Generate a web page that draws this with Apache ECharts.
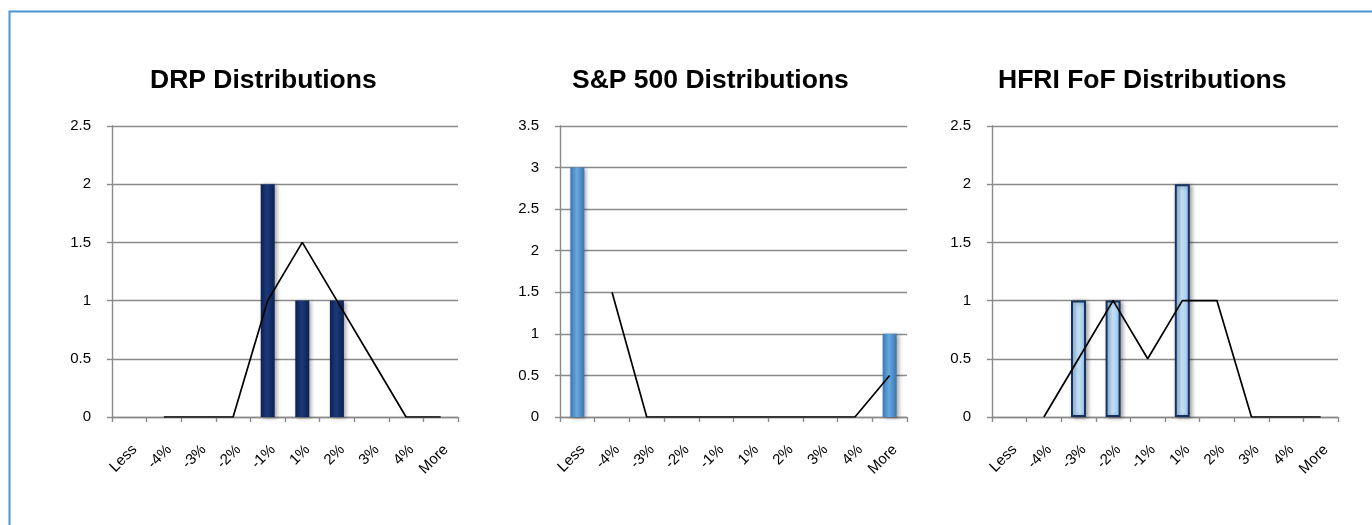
<!DOCTYPE html>
<html>
<head>
<meta charset="utf-8">
<script src="https://cdn.jsdelivr.net/npm/echarts@6/dist/echarts.min.js"></script>
<style>
html,body{margin:0;padding:0;background:#fff;}
#c{width:1372px;height:525px;}
</style>
</head>
<body>
<div id="c"></div>
<script>
const categories = ['Less','-4%','-3%','-2%','-1%','1%','2%','3%','4%','More'];

const drpCounts  = [0, 0, 0, 0, 2, 1, 1, 0, 0, 0];
const drpAvg     = [null, 0, 0, 0, 1, 1.5, 1, 0.5, 0, 0];

const spCounts   = [3, 0, 0, 0, 0, 0, 0, 0, 0, 1];
const spAvg      = [null, 1.5, 0, 0, 0, 0, 0, 0, 0, 0.5];

const hfriCounts = [0, 0, 1, 1, 0, 2, 0, 0, 0, 0];
const hfriAvg    = [null, 0, 0.5, 1, 0.5, 1, 1, 0, 0, 0];

const titles = ['DRP Distributions', 'S&P 500 Distributions', 'HFRI FoF Distributions'];
const yMax = [2.5, 3.5, 2.5];

const FONT = '"Liberation Sans", Arial, sans-serif';
const grids = [
  {left: 112, top: 126, width: 346, height: 291},
  {left: 560, top: 126, width: 347, height: 291},
  {left: 992, top: 126, width: 346, height: 291}
];
const titleLeft = [150, 572, 998];

function grad(c1, c2) {
  return {type:'linear', x:0, y:0, x2:1, y2:0,
    colorStops:[{offset:0,color:c1},{offset:0.45,color:c2},{offset:1,color:c1}]};
}
const shadow = {shadowColor:'rgba(0,0,0,0.35)', shadowBlur:4, shadowOffsetX:2, shadowOffsetY:1};
const barStyles = [
  Object.assign({color: grad('#0c2055', '#1c3a78')}, shadow),
  Object.assign({color: grad('#3a76b0', '#66a8de')}, shadow),
  Object.assign({color: grad('#92c3ec', '#c8e3f8'), borderColor:'#17325f', borderWidth:2}, shadow)
];
const counts = [drpCounts, spCounts, hfriCounts];
const avgs = [drpAvg, spAvg, hfriAvg];

const option = {
  animation: false,
  backgroundColor: '#fff',
  graphic: [{
    type: 'rect', left: 7, top: 9, z: 100, silent: true,
    shape: {x: 0, y: 0, width: 1400, height: 600},
    style: {fill: 'none', stroke: '#4a93d1', lineWidth: 2}
  }],
  title: titles.map((t, i) => ({
    text: t, left: titleLeft[i], top: 67, padding: 0,
    textStyle: {fontFamily: FONT, fontSize: 26.5, fontWeight: 'bold', color: '#000'}
  })),
  grid: grids,
  xAxis: grids.map((g, i) => ({
    type: 'category', gridIndex: i, data: categories,
    axisLine: {show: true, lineStyle: {color: '#8a8a8a', width: 1.4}},
    axisTick: {show: true, length: 5, lineStyle: {color: '#8a8a8a', width: 1.4}},
    axisLabel: {rotate: 45, interval: 0, margin: 25, align: 'right', verticalAlign: 'top',
      fontFamily: FONT, fontSize: 15, color: '#000'},
    splitLine: {show: false}
  })),
  yAxis: grids.map((g, i) => ({
    type: 'value', gridIndex: i, min: 0, max: yMax[i], interval: 0.5,
    axisLine: {show: true, lineStyle: {color: '#8a8a8a', width: 1.4}},
    axisTick: {show: true, length: 5, lineStyle: {color: '#8a8a8a', width: 1.4}},
    axisLabel: {margin: 21, fontFamily: FONT, fontSize: 15, color: '#000'},
    splitLine: {show: true, lineStyle: {color: '#8a8a8a', width: 1.4}}
  })),
  series: []
};

for (let i = 0; i < 3; i++) {
  option.series.push({
    type: 'bar', xAxisIndex: i, yAxisIndex: i,
    data: counts[i].map(v => v === 0 ? null : v),
    barWidth: i === 2 ? 15 : 14,
    itemStyle: barStyles[i],
    z: 2
  });
  option.series.push({
    type: 'line', xAxisIndex: i, yAxisIndex: i,
    data: avgs[i], showSymbol: false, symbol: 'none',
    lineStyle: {color: '#000', width: 1.7},
    z: 5
  });
}

const chart = echarts.init(document.getElementById('c'), null, {renderer: 'canvas'});
chart.setOption(option);
</script>
</body>
</html>
